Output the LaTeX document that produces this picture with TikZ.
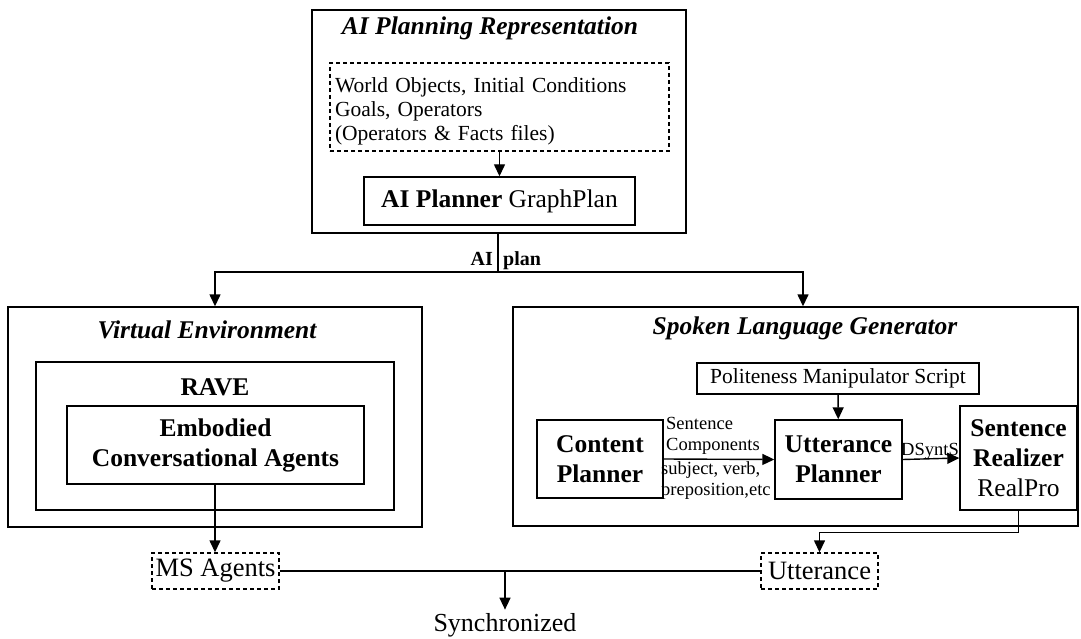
\documentclass[tikz,border=0pt]{standalone}
\usepackage{fontspec}
\setmainfont{Liberation Serif}
\usetikzlibrary{arrows.meta}
\newcommand{\sz}[2]{\fontsize{#1}{#2}\selectfont}

\begin{document}
\begin{tikzpicture}[x=1pt,y=-1pt,
    box/.style={draw,line width=1.4pt,inner sep=0pt,align=center},
    dbox/.style={box,dash pattern=on 4pt off 3pt},
    ln/.style={line width=1.4pt},
    arr/.style={ln,-{Triangle[length=12pt,width=11pt]}},
    ttl/.style={font=\sz{25.5}{28}\bfseries\itshape},
    bld/.style={font=\sz{25.5}{30}\bfseries},
    txt/.style={font=\sz{21.5}{24}},
    sml/.style={font=\sz{18.5}{21},inner sep=0pt,align=left}]
    \useasboundingbox (0,0) rectangle (1081,639);
    \node[box,minimum width=374pt,minimum height=223pt] (rep) at (499,121.5) {};
    \node[ttl] (reptitle) at (490,28) {AI Planning Representation};
    \node[dbox,minimum width=339pt,minimum height=88pt] (facts) at (499.5,107) {};
    \node[txt,text width=329pt,align=left,inner sep=0pt] (factstxt) at (499.5,111)
        {World Objects, Initial Conditions\\Goals, Operators\\(Operators \& Facts files)};
    \node[box,bld,minimum width=271pt,minimum height=48pt] (planner) at (499.5,201)
        {AI Planner \textmd{GraphPlan}};
    \draw[arr] (facts) -- (planner);

    \node[box,minimum width=414pt,minimum height=220pt] (venv) at (215,417) {};
    \node[ttl] (vetitle) at (207,330) {Virtual Environment};
    \node[box,minimum width=358pt,minimum height=148pt] (rave) at (215,436) {};
    \node[bld] (ravetitle) at (215,387) {RAVE};
    \node[box,bld,minimum width=297pt,minimum height=78pt] (eca) at (215.5,445)
        {Embodied\\Conversational Agents};

    \node[box,minimum width=565pt,minimum height=219pt] (slg) at (795.5,416.5) {};
    \node[ttl] (slgtitle) at (805,328) {Spoken Language Generator};
    \node[box,txt,minimum width=282pt,minimum height=31pt] (polite) at (838,378.5)
        {Politeness Manipulator Script};
    \node[box,bld,minimum width=126pt,minimum height=78pt] (content) at (600,459) {Content\\Planner};
    \node[box,bld,minimum width=127pt,minimum height=79pt] (utter) at (838.5,459.5) {Utterance\\Planner};
    \node[box,bld,minimum width=117pt,minimum height=104pt] (realizer) at (1018.5,458)
        {Sentence\\Realizer\\\textmd{RealPro}};
    \draw[arr] (polite) -- (utter);
    \draw[arr] (content.east) -- (utter.west);
    \node[sml,anchor=south west] (comp) at (666,455) {Sentence\\Components};
    \node[sml,anchor=north west] (compex) at (661,461) {subject, verb,\\preposition,etc};
    \draw[arr] (utter.east) -- (realizer.west);
    \node[sml,anchor=base] (dsynts) at (930,455) {DSyntS};

    \coordinate (split) at (498,272);
    \draw[ln] (rep.south -| split) -- (split);
    \draw[arr] (split) -| (venv.north);
    \draw[arr] (split) -| ([xshift=7.5pt]slg.north);
    \node[font=\sz{20}{24}\bfseries,anchor=base east,inner sep=0pt] (ailbl) at (493,265) {AI};
    \node[font=\sz{20}{24}\bfseries,anchor=base west,inner sep=0pt] (planlbl) at (503,265) {plan};

    \node[dbox,font=\sz{26.5}{28},minimum width=127pt,minimum height=36pt] (msag) at (215.5,571) {MS Agents};
    \node[dbox,font=\sz{26.5}{28},minimum width=117pt,minimum height=36pt] (utt) at (819.5,571) {Utterance};
    \node[font=\sz{26}{28}] (sync) at (505,625) {Synchronized};
    \draw[arr] (eca.south -| venv.north) -- (msag.north -| venv.north);
    \draw[arr] (realizer.south) -- ++(0,22) -| (utt.north);
    \draw[ln] (msag.east) -- (utt.west);
    \coordinate (join) at (505,571);
    \draw[arr] (join) -- (sync);
\end{tikzpicture}
\end{document}
